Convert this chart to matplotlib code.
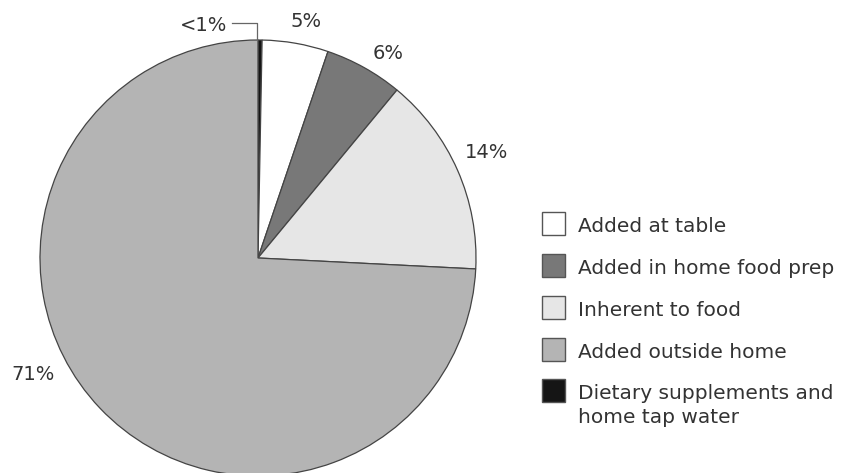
import matplotlib.pyplot as plt
from matplotlib.patches import Rectangle

plt.rcParams['font.family'] = ['DejaVu Sans']

categories = ["Dietary supplements and\nhome tap water", "Added at table",
              "Added in home food prep", "Inherent to food", "Added outside home"]
shares = [0.3, 4.9, 5.8, 14.8, 74.2]  # measured slice sizes, %
labels = ["<1%", "5%", "6%", "14%", "71%"]
colors = ["#151515", "#ffffff", "#787878", "#e6e6e6", "#b4b4b4"]
legend_order = [1, 2, 3, 4, 0]

W, H = 854, 473
fig = plt.figure(figsize=(W / 100, H / 100), dpi=100)
ax = fig.add_axes([0, 0, 1, 1])

cx, cy, r = 258, H - 258, 218
wedges, _ = ax.pie(shares, colors=colors, startangle=90, counterclock=False,
                   center=(cx, cy), radius=r, frame=True,
                   wedgeprops=dict(edgecolor="#444444", linewidth=0.9))
ax.set_xlim(0, W)
ax.set_ylim(0, H)
ax.set_aspect('equal')
ax.axis('off')

txt = "#333333"
# label positions (pixels from top-left)
lab_pos = [(227, 25), (306, 21), (388, 53), (487, 152), (33, 374)]
for i, (lab, (x, y)) in enumerate(zip(labels, lab_pos)):
    ha = 'right' if i == 0 else 'center'
    ax.text(x, H - y, lab, ha=ha, va='center', fontsize=14, color=txt)

# leader line for <1%
ax.plot([232, 257, 257], [H - 23, H - 23, H - 40], color="#666666", lw=0.9)

# legend, drawn by hand
for k, i in enumerate(legend_order):
    top = 212 + 42 * k - (1 if k == 4 else 0)
    ax.add_patch(Rectangle((542, H - top - 23), 23, 23, facecolor=colors[i],
                           edgecolor="#555555", lw=1))
    for j, line in enumerate(categories[i].split("\n")):
        ax.text(578, H - (top + 20 + 24 * j), line, ha='left', va='baseline',
                fontsize=14.5, color=txt)

fig.savefig("out.png", dpi=100)
